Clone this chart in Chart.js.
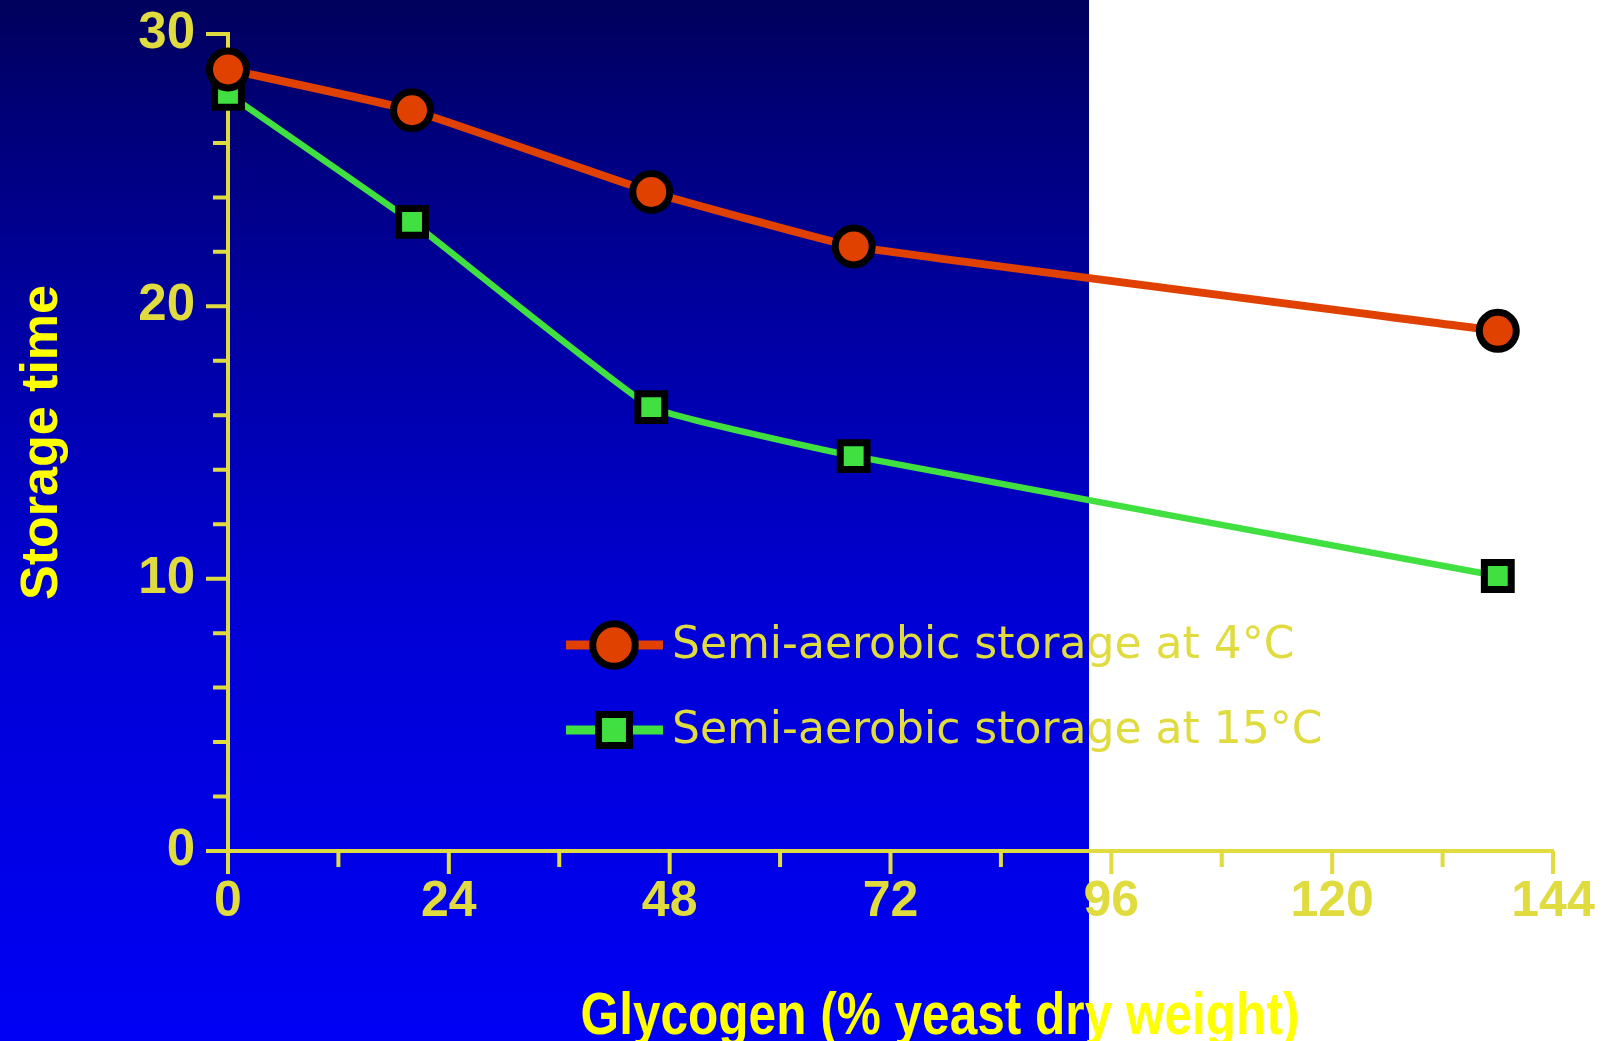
<!DOCTYPE html>
<html lang="en">
<head>
<meta charset="UTF-8">
<title>Storage time vs glycogen</title>
<script src="https://cdn.jsdelivr.net/npm/chart.js"></script>
<style>
  * { margin: 0; padding: 0; box-sizing: border-box; }
  html, body { width: 1605px; height: 1041px; overflow: hidden; background: #fff; }
  .wrap { position: relative; width: 1605px; height: 1041px; }
</style>
</head>
<body>
<div class="wrap"><canvas id="chart"></canvas></div>
<script>
// values
const glycogen = [0, 20, 46, 68, 138];
const storage4C = [28.7, 27.2, 24.2, 22.2, 19.1];
const storage15C = [27.8, 23.1, 16.3, 14.5, 10.1];
const seriesLabels = ['Semi-aerobic storage at 4°C', 'Semi-aerobic storage at 15°C'];
const xTitle = 'Glycogen (% yeast dry weight)';
const yTitle = 'Storage time';
const xTickStep = 24, xMinorStep = 12, xMax = 144;
const yTickStep = 10, yMinorStep = 2, yMax = 30;

const TICK_YELLOW = '#e0dc40';
const TITLE_YELLOW = '#ffff00';
const RED = '#e04000';
const GREEN = '#40e040';

const toPoints = ys => ys.map((y, i) => ({ x: glycogen[i], y }));

// no extra room for overflowing tick labels, the layout padding decides the plot box
function noLabelPadding(scale) {
  scale.paddingTop = 0;
  scale.paddingBottom = 0;
  scale.paddingLeft = 0;
  scale.paddingRight = 0;
}

// blue gradient on the left part, white on the right
const backdrop = {
  id: 'backdrop',
  beforeDraw(chart) {
    const { ctx, width, height } = chart;
    ctx.save();
    ctx.fillStyle = '#ffffff';
    ctx.fillRect(0, 0, width, height);
    const g = ctx.createLinearGradient(0, 0, 0, height);
    g.addColorStop(0, '#00005c');
    g.addColorStop(0.12, '#00007a');
    g.addColorStop(0.3, '#0000a0');
    g.addColorStop(0.6, '#0000d6');
    g.addColorStop(1, '#0000f5');
    ctx.fillStyle = g;
    ctx.fillRect(0, 0, 1089, height);
    ctx.restore();
  }
};

// major / minor tick marks outside the axes
const tickMarks = {
  id: 'tickMarks',
  beforeDatasetsDraw(chart) {
    const { ctx, chartArea, scales } = chart;
    ctx.save();
    ctx.strokeStyle = TICK_YELLOW;
    ctx.lineWidth = 4;
    ctx.beginPath();
    for (let v = 0; v <= xMax; v += xMinorStep) {
      const px = scales.x.getPixelForValue(v);
      const len = v % xTickStep === 0 ? 23 : 16;
      ctx.moveTo(px, chartArea.bottom);
      ctx.lineTo(px, chartArea.bottom + len);
    }
    for (let v = 0; v <= yMax; v += yMinorStep) {
      const py = scales.y.getPixelForValue(v);
      const len = v % yTickStep === 0 ? 22 : 15;
      ctx.moveTo(chartArea.left, py);
      ctx.lineTo(chartArea.left - len, py);
    }
    ctx.stroke();
    ctx.restore();
  }
};

// x title (condensed, off-centre like the original)
const xTitlePlugin = {
  id: 'xTitle',
  afterDraw(chart) {
    const { ctx } = chart;
    ctx.save();
    ctx.translate(940, 1034);
    ctx.scale(0.84, 1);
    ctx.font = 'bold 59px "Liberation Sans", Arial, sans-serif';
    ctx.fillStyle = TITLE_YELLOW;
    ctx.textAlign = 'center';
    ctx.textBaseline = 'alphabetic';
    ctx.fillText(xTitle, 0, 0);
    ctx.restore();
  }
};

// legend inside the plot
const legendPlugin = {
  id: 'insideLegend',
  afterDraw(chart) {
    const { ctx } = chart;
    const rows = [645, 730];
    chart.data.datasets.forEach((ds, i) => {
      const y = rows[i];
      ctx.save();
      ctx.strokeStyle = ds.borderColor;
      ctx.lineWidth = 9;
      ctx.beginPath();
      ctx.moveTo(566, y);
      ctx.lineTo(663, y);
      ctx.stroke();
      ctx.fillStyle = ds.pointBackgroundColor;
      ctx.strokeStyle = ds.pointBorderColor;
      ctx.lineWidth = ds.pointBorderWidth;
      Chart.helpers.drawPoint(ctx, {
        pointStyle: ds.pointStyle,
        radius: ds.pointRadius * 1.15,
        borderWidth: ds.pointBorderWidth,
        rotation: 0
      }, 614, y);
      ctx.font = '44px "DejaVu Sans", sans-serif';
      ctx.fillStyle = TICK_YELLOW;
      ctx.textAlign = 'left';
      ctx.textBaseline = 'middle';
      ctx.fillText(ds.label, 672, y + 2);
      ctx.restore();
    });
  }
};

new Chart(document.getElementById('chart'), {
  type: 'line',
  data: {
    datasets: [
      {
        label: seriesLabels[0],
        data: toPoints(storage4C),
        borderColor: RED,
        borderWidth: 8,
        tension: 0.1,
        pointStyle: 'circle',
        pointRadius: 18.5,
        pointBorderWidth: 7,
        pointBackgroundColor: RED,
        pointBorderColor: '#000000',
        clip: false
      },
      {
        label: seriesLabels[1],
        data: toPoints(storage15C),
        borderColor: GREEN,
        borderWidth: 6.5,
        tension: 0.1,
        pointStyle: 'rect',
        pointRadius: 19,
        pointBorderWidth: 7,
        pointBackgroundColor: GREEN,
        pointBorderColor: '#000000',
        clip: false
      }
    ]
  },
  options: {
    responsive: true,
    maintainAspectRatio: false,
    animation: false,
    layout: { padding: { top: 34, right: 52, left: 0, bottom: 0 } },
    plugins: {
      legend: { display: false },
      tooltip: { enabled: false }
    },
    scales: {
      x: {
        type: 'linear',
        min: 0,
        max: xMax,
        grid: { display: false, drawTicks: false },
        border: { display: true, color: TICK_YELLOW, width: 4 },
        ticks: {
          stepSize: xTickStep,
          color: TICK_YELLOW,
          padding: 21,
          maxRotation: 0,
          font: { family: '"Liberation Sans", Arial, sans-serif', size: 50, weight: 'bold' }
        },
        afterFit(scale) { scale.height = 190; noLabelPadding(scale); }
      },
      y: {
        min: 0,
        max: yMax,
        grid: { display: false, drawTicks: false },
        border: { display: true, color: TICK_YELLOW, width: 4 },
        ticks: {
          stepSize: yTickStep,
          color: TICK_YELLOW,
          padding: 33,
          font: { family: '"Liberation Sans", Arial, sans-serif', size: 51, weight: 'bold' }
        },
        title: {
          display: true,
          text: yTitle,
          color: TITLE_YELLOW,
          padding: { top: 11, bottom: 0 },
          font: { family: '"Liberation Sans", Arial, sans-serif', size: 52, weight: 'bold' }
        },
        afterFit(scale) { scale.width = 228; noLabelPadding(scale); }
      }
    }
  },
  plugins: [backdrop, tickMarks, xTitlePlugin, legendPlugin]
});
</script>
</body>
</html>
